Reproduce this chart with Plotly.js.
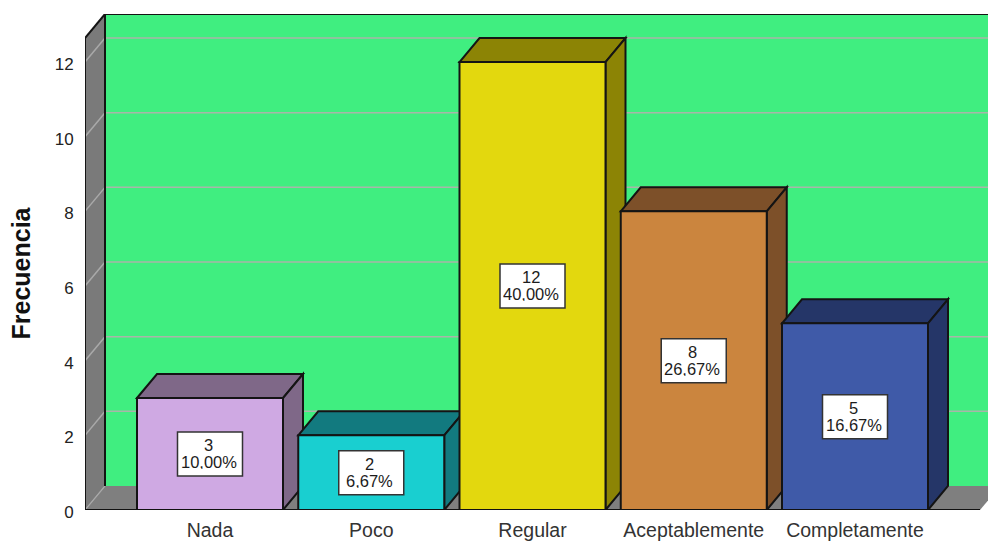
<!DOCTYPE html>
<html>
<head>
<meta charset="utf-8">
<script src="https://cdn.plot.ly/plotly-3.0.1.min.js"></script>
<style>html,body{margin:0;padding:0;background:#fff}#c{width:988px;height:543px}</style>
</head>
<body>
<div id="c"></div>
<script>
const categories = ["Nada", "Poco", "Regular", "Aceptablemente", "Completamente"];
const counts = [3, 2, 12, 8, 5];
const percents = ["10,00%", "6,67%", "40,00%", "26,67%", "16,67%"];
const frontColors = ["#cfa9e3", "#19cfd0", "#e3d80e", "#cb853e", "#3f5aa8"];
const shadeColors = ["#7f6888", "#127a7f", "#8c8405", "#7d5029", "#253668"];
const yTicks = [0, 2, 4, 6, 8, 10, 12];

const pxPerX = 161.25, pxPerY = 37.33;
const depthX = 20 / pxPerX, depthY = 24 / pxPerY;
const barW = 146 / pxPerX;
const xMin = -125 / pxPerX, xMax = 778 / pxPerX, xEnd = 770 / pxPerX;
const yMax = 496 / pxPerY, yTop = yMax - depthY;
const positions = categories.map((_, i) => i);
const edge = "#141414";

function poly(pts, fill, line, w) {
  return {
    type: "path", xref: "x", yref: "y", layer: "below",
    path: "M" + pts.map(p => p[0] + "," + p[1]).join("L") + "Z",
    fillcolor: fill, line: {color: line, width: w === undefined ? 2 : w}
  };
}
function seg(x0, y0, x1, y1, color, w) {
  return {type: "line", xref: "x", yref: "y", layer: "below", x0, y0, x1, y1,
          line: {color, width: w}};
}

const shapes = [];
// back wall, floor, left wall
shapes.push(poly([[xMin + depthX, depthY], [xEnd + depthX + 1, depthY], [xEnd + depthX + 1, yMax], [xMin + depthX, yMax]], "#40ee80", "#40ee80", 0));
shapes.push(poly([[xMin, 0], [xMin + depthX, depthY], [xEnd + depthX, depthY], [xEnd, 0]], "#7f7f7f", "#7f7f7f", 0));
shapes.push(poly([[xMin, 0], [xMin + depthX, depthY], [xMin + depthX, yMax], [xMin, yTop]], "#7a7a7a", edge, 0));
// gridlines
yTicks.filter(v => v > 0).forEach(v => {
  shapes.push(seg(xMin + depthX, v + depthY, xMax + 1, v + depthY, "#a9b5a9", 1.5));
  shapes.push(seg(xMin, v, xMin + depthX, v + depthY, "#a9a9a9", 1.5));
});
shapes.push(seg(xMin, 0, xMin + depthX, depthY, "#a9a9a9", 1.2));
// wall outlines
shapes.push(seg(xMin + depthX, depthY, xMin + depthX, yMax, edge, 2));
shapes.push(seg(xMin + depthX, yMax, xMax + 1, yMax, edge, 2));
shapes.push(seg(xMin, yTop, xMin + depthX, yMax, edge, 2));
shapes.push(seg(xMin, 0, xMin, yTop, edge, 2));
// bar tops and sides, left to right
counts.forEach((v, i) => {
  const l = positions[i] - barW / 2, r = positions[i] + barW / 2;
  shapes.push(poly([[l, v], [l + depthX, v + depthY], [r + depthX, v + depthY], [r, v]], shadeColors[i], edge));
  shapes.push(poly([[r, 0], [r + depthX, depthY], [r + depthX, v + depthY], [r, v]], shadeColors[i], edge));
});
// baseline
shapes.push({type: "line", xref: "x", yref: "y", layer: "above", x0: xMin, y0: 0, x1: xEnd, y1: 0,
             line: {color: "#111", width: 2}});

const labelFont = {family: "Liberation Sans, Arial, sans-serif", size: 16.5, color: "#1c1c1c"};
const annotations = [];
counts.forEach((v, i) => {
  const bx = 32.5 / pxPerX, by = 22 / pxPerY;
  shapes.push({type: "rect", xref: "x", yref: "y", layer: "above",
               x0: positions[i] - bx, x1: positions[i] + bx, y0: v / 2 - by, y1: v / 2 + by,
               fillcolor: "#fff", line: {color: "#333", width: 1.5}});
  const base = {x: positions[i], y: v / 2, xref: "x", yref: "y", showarrow: false, font: labelFont};
  annotations.push(Object.assign({}, base, {text: String(v), yshift: 9, xshift: -1.5, height: 14, borderpad: 0}));
  annotations.push(Object.assign({}, base, {text: percents[i], yshift: -8, xshift: -1.5, height: 14, borderpad: 0}));
});
annotations.push({
  text: "<b>Frecuencia</b>", xref: "paper", yref: "paper",
  x: -65 / 903, y: (510 - 273.5) / 496, xanchor: "center", yanchor: "middle",
  textangle: -90, showarrow: false,
  font: {family: "Liberation Sans, Arial, sans-serif", size: 25, color: "#111"}
});

const trace = {
  type: "bar", x: positions, y: counts, width: barW,
  text: percents, textposition: "none", hoverinfo: "x+y",
  marker: {color: frontColors, line: {color: edge, width: 2}}
};

const layout = {
  width: 988, height: 543,
  margin: {l: 85, r: 0, t: 14, b: 33, pad: 0},
  paper_bgcolor: "#fff", plot_bgcolor: "rgba(0,0,0,0)",
  showlegend: false,
  font: {family: "Liberation Sans, Arial, sans-serif", color: "#222"},
  xaxis: {type: "linear", range: [xMin, xMax], tickmode: "array", tickvals: positions, ticktext: categories,
          showgrid: false, zeroline: false, showline: false, ticks: "outside", ticklen: 3, tickcolor: "rgba(0,0,0,0)",
          tickfont: {size: 19.5, color: "#333"}, automargin: false, fixedrange: true},
  yaxis: {type: "linear", range: [0, yMax], tickmode: "array", tickvals: yTicks, ticktext: yTicks.map(String),
          showgrid: false, zeroline: false, showline: false, ticks: "outside", ticklen: 7, tickcolor: "rgba(0,0,0,0)",
          ticklabelshift: 2,
          tickfont: {size: 17, color: "#222"}, automargin: false, fixedrange: true},
  shapes, annotations
};
Plotly.newPlot("c", [trace], layout, {displayModeBar: false, staticPlot: true});
</script>
</body>
</html>
